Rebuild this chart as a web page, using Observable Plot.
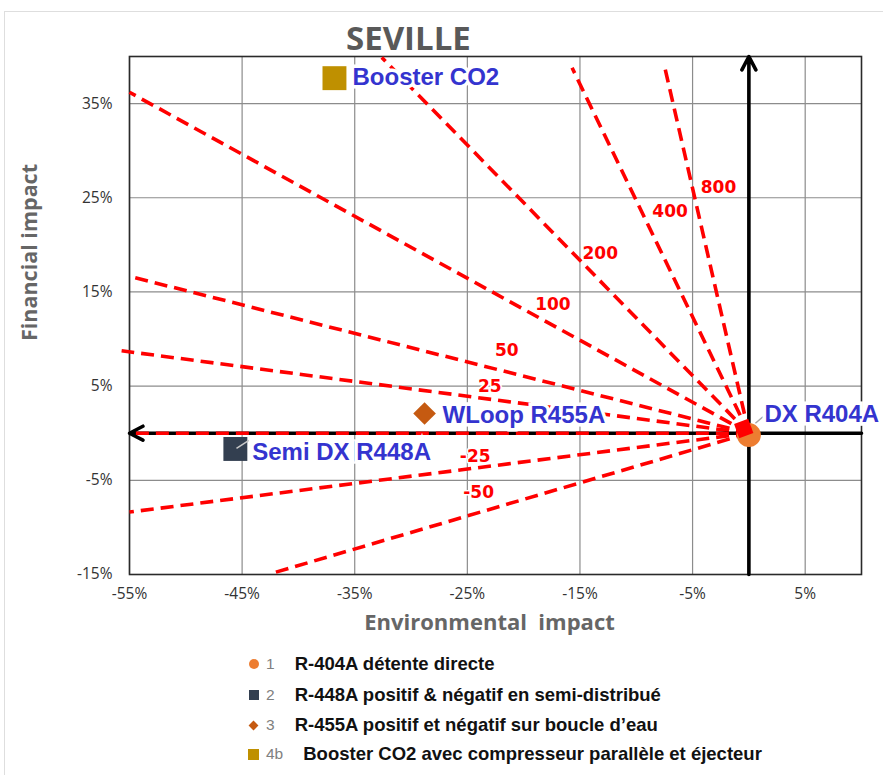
<!DOCTYPE html>
<html>
<head>
<meta charset="utf-8">
<script src="https://cdn.jsdelivr.net/npm/d3@7"></script>
<script src="https://cdn.jsdelivr.net/npm/@observablehq/plot@0.6"></script>
<style>
  body { margin: 0; background: #fff; }
  #wrap { position: relative; width: 883px; height: 775px; overflow: hidden; background: #fff; }
  #border { position: absolute; left: 4px; top: 11px; width: 885px; height: 770px; border: 1px solid #dedede; box-sizing: border-box; }
  #chart { position: absolute; left: 0; top: 0; }
  #title { position: absolute; left: 346px; top: 21px; font: 700 33px "Open Sans", sans-serif; color: #595959; line-height: 1; }
  .leg { position: absolute; left: 248px; height: 22px; display: flex; align-items: center; font-family: "Liberation Sans", Arial, sans-serif; white-space: nowrap; }
  .leg .mk { width: 11px; height: 11px; display: flex; align-items: center; justify-content: center; }
  .leg .num { margin-left: 7px; font-size: 15.5px; color: #808080; }
  .leg .lab { margin-left: 20px; font-size: 18.5px; font-weight: 700; color: #111; }
</style>
</head>
<body>
<div id="wrap">
  <div id="border"></div>
  <div id="chart"></div>
  <div id="title"></div>
  <div id="legend"></div>
</div>
<script>
// ---- data ----
const chartTitle = "SEVILLE";
const xTicks = [-55, -45, -35, -25, -15, -5, 5];
const yTicks = [-15, -5, 5, 15, 25, 35];

// iso-ratio dashed lines from the origin (end points)
const isoLabels = ["800", "400", "200", "100", "50", "25", "0", "-25", "-50"];
const isoEndX   = [-7.5, -15.7, -32.6, -55.0, -54.8, -55.7, -54.6, -55.0, -42.0];
const isoEndY   = [39.0, 38.8, 39.9, 36.2, 16.6, 8.75, 0, -8.37, -14.75];
const isoLabelX = [-2.7, -7.0, -13.2, -17.4, -21.5, -23.0, null, -24.3, -24.0];
const isoLabelY = [26.1, 23.5, 19.1, 13.7, 8.8, 5.0, null, -2.45, -6.3];

// systems
const systems    = ["DX R404A", "Semi DX R448A", "WLoop R455A", "Booster CO2"];
const envImpact  = [0, -45.6, -28.8, -36.8];
const finImpact  = [-0.2, -1.67, 2.1, 37.7];
const symbols    = ["circle", "square", "diamond2", "square"];
const colors     = ["#ed7d31", "#333f50", "#c55a11", "#bf9000"];
const labelX     = [1.38, -44.1, -27.2, -35.2];
const labelY     = [2.0, -2.0, 1.9, 37.8];

// legend
const legendNums  = ["1", "2", "3", "4b"];
const legendTexts = [
  "R-404A détente directe",
  "R-448A positif & négatif en semi-distribué",
  "R-455A positif et négatif sur boucle d’eau",
  "Booster CO2 avec compresseur parallèle et éjecteur"
];

// ---- build ----
const iso = isoLabels.map((l, i) => ({label: l, x1: 0, y1: 0, x2: isoEndX[i], y2: isoEndY[i], lx: isoLabelX[i], ly: isoLabelY[i]}));
const markerR = [12, 13.5, 10.2, 13.5];
const pts = systems.map((s, i) => ({name: s, x: envImpact[i], y: finImpact[i], symbol: symbols[i], color: colors[i], lx: labelX[i], ly: labelY[i], r: markerR[i]}));
const axesArrows = [
  {x1: 10, y1: 0, x2: -55, y2: 0},
  {x1: 0, y1: -15, x2: 0, y2: 40}
];
const origin = [{x: -0.46, y: 0.5}];
const leaders = [
  {x1: 0.58, y1: 1.06, x2: 1.25, y2: 1.75, c: "#a6a6a6"},
  {x1: -45.5, y1: -1.6, x2: -44.4, y2: -0.75, c: "#c8c8c8"}
];

const dash = "13,7";
const chart = Plot.plot({
  width: 883,
  height: 640,
  marginLeft: 129,
  marginRight: 22,
  marginTop: 56,
  marginBottom: 66,
  style: {fontFamily: "'Open Sans', sans-serif", fontSize: "15px", color: "#333", background: "transparent"},
  x: {domain: [-55, 10]},
  y: {domain: [-15, 40]},
  marks: [
    Plot.gridX({ticks: xTicks, stroke: "#8c8c8c", strokeOpacity: 1, strokeWidth: 1.2}),
    Plot.gridY({ticks: yTicks, stroke: "#8c8c8c", strokeOpacity: 1, strokeWidth: 1.2}),
    Plot.frame({stroke: "#2a2a2a", strokeWidth: 1.6}),
    Plot.axisX({ticks: xTicks, tickSize: 0, tickPadding: 13, tickFormat: d => `${d}%`, label: null, fontSize: 15.5}),
    Plot.axisY({ticks: yTicks, tickSize: 0, tickPadding: 17, tickFormat: d => `${d}%`, label: null, fontSize: 15.5}),
    Plot.text(["Environmental  impact"], {frameAnchor: "bottom", lineAnchor: "middle", dx: -6, dy: 48, fontSize: 22, fontWeight: 700, fill: "#666", fontFamily: "'Open Sans', sans-serif", letterSpacing: "2px", textAnchor: "middle"}),
    Plot.text(["Financial impact"], {frameAnchor: "left", lineAnchor: "middle", dx: -99, dy: -63, rotate: -90, fontSize: 21.5, fontWeight: 700, fill: "#666", fontFamily: "'Open Sans', sans-serif", textAnchor: "middle"}),
    Plot.link(iso.filter(d => d.label !== "0"), {x1: "x1", y1: "y1", x2: "x2", y2: "y2", stroke: "#ff0000", strokeWidth: 3.6, strokeDasharray: dash}),
    Plot.arrow(axesArrows, {x1: "x1", y1: "y1", x2: "x2", y2: "y2", stroke: "black", strokeWidth: 3.6, headLength: 6.3, headAngle: 55}),
    Plot.link(iso.filter(d => d.label === "0"), {x1: "x1", y1: "y1", x2: "x2", y2: "y2", stroke: "#ff0000", strokeWidth: 3.6, strokeDasharray: dash}),
    Plot.text(iso.filter(d => d.lx != null), {x: "lx", y: "ly", text: "label", fill: "#ff0000", fontSize: 17, fontWeight: 700, fontFamily: "'DejaVu Sans', sans-serif", stroke: "white", strokeWidth: 3, paintOrder: "stroke"}),
    ...pts.map(p => Plot.dot([p], {x: "x", y: "y", symbol: p.symbol, fill: p.color, r: p.r})),
    Plot.dot(origin, {x: "x", y: "y", symbol: "square", fill: "#ff0000", r: 8.5, rotate: -20}),
    Plot.link(leaders, {x1: "x1", y1: "y1", x2: "x2", y2: "y2", stroke: "c", strokeWidth: 1.5}),
    Plot.text(pts, {x: "lx", y: "ly", text: "name", textAnchor: "start", fill: "#3434cf", fontSize: 24, fontWeight: 700, fontFamily: "'Liberation Sans', Arial, sans-serif", stroke: "white", strokeWidth: 7, paintOrder: "stroke", strokeLinejoin: "miter"})
  ]
});
document.getElementById("chart").appendChild(chart);
document.getElementById("title").textContent = chartTitle;

// legend
const rowCenters = [664, 694.5, 725, 754];
const markerHtml = [
  '<span style="width:10px;height:10px;border-radius:50%;background:#ed7d31;display:block"></span>',
  '<span style="width:10px;height:10px;background:#333f50;display:block"></span>',
  '<span style="width:7px;height:7px;background:#c55a11;transform:rotate(45deg);display:block"></span>',
  '<span style="width:11px;height:11px;background:#bf9000;display:block"></span>'
];
const legend = document.getElementById("legend");
legendNums.forEach((n, i) => {
  const row = document.createElement("div");
  row.className = "leg";
  row.style.top = (rowCenters[i] - 11) + "px";
  row.innerHTML = `<span class="mk">${markerHtml[i]}</span><span class="num">${n}</span><span class="lab">${legendTexts[i]}</span>`;
  legend.appendChild(row);
});
</script>
</body>
</html>
